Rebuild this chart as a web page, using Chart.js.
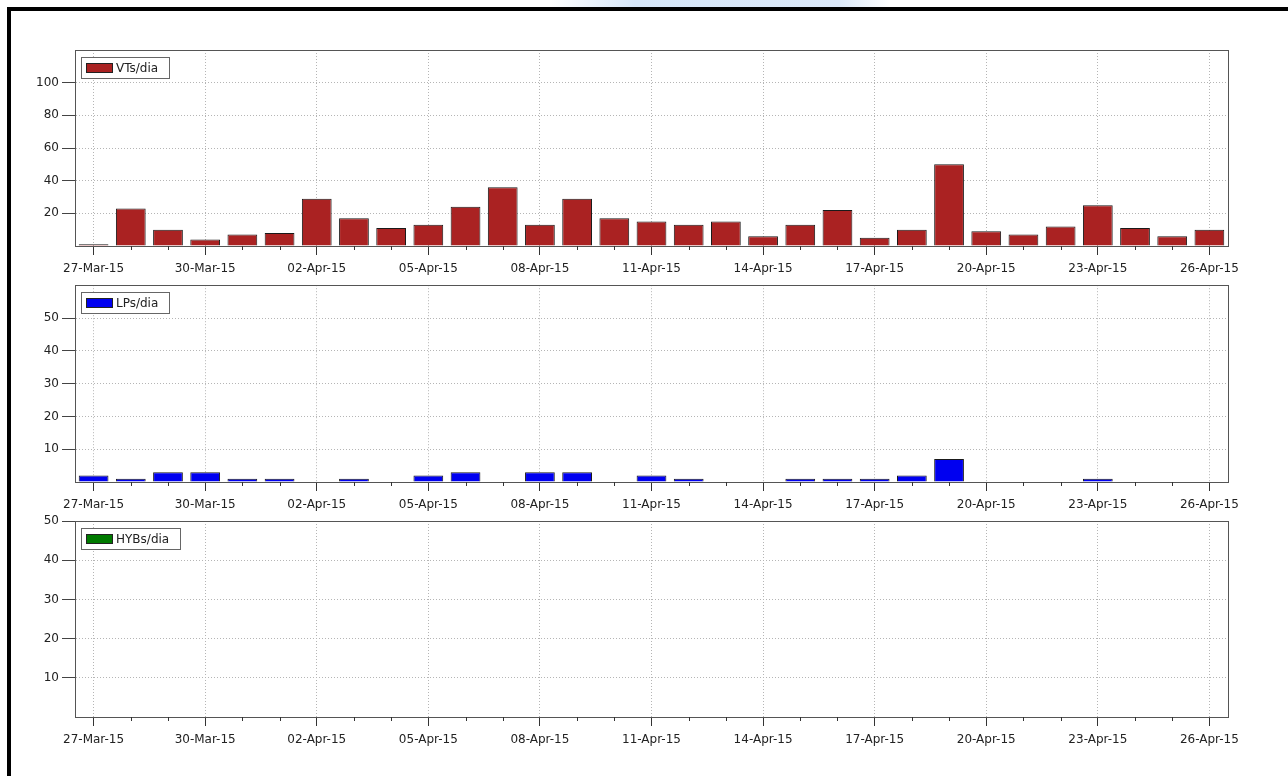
<!DOCTYPE html>
<html>
<head>
<meta charset="utf-8">
<script src="https://cdn.jsdelivr.net/npm/chart.js@4.4.0/dist/chart.umd.min.js"></script>
<style>
html, body { margin: 0; padding: 0; background: #fff; }
body { width: 1288px; height: 776px; position: relative; overflow: hidden; }
#glow { position: absolute; left: 550px; top: 0; width: 340px; height: 8px;
  background: linear-gradient(to right, rgba(214,230,248,0), #d6e6f8 25%, #dce9f9 85%, rgba(220,233,249,0)); }
#frame { position: absolute; left: 7px; top: 7px; right: -10px; bottom: -10px;
  border-top: 4px solid #000; border-left: 4px solid #000; }
canvas { position: absolute; left: 0; }
</style>
</head>
<body>
<div id="glow"></div>
<div id="frame"></div>
<canvas id="vts" width="1288" height="280" style="top:0px"></canvas>
<canvas id="lps" width="1288" height="242" style="top:275px"></canvas>
<canvas id="hybs" width="1288" height="271" style="top:505px"></canvas>
<script>
const dates = [
  '27-Mar-15', '28-Mar-15', '29-Mar-15', '30-Mar-15', '31-Mar-15',
  '01-Apr-15', '02-Apr-15', '03-Apr-15', '04-Apr-15', '05-Apr-15',
  '06-Apr-15', '07-Apr-15', '08-Apr-15', '09-Apr-15', '10-Apr-15',
  '11-Apr-15', '12-Apr-15', '13-Apr-15', '14-Apr-15', '15-Apr-15',
  '16-Apr-15', '17-Apr-15', '18-Apr-15', '19-Apr-15', '20-Apr-15',
  '21-Apr-15', '22-Apr-15', '23-Apr-15', '24-Apr-15', '25-Apr-15',
  '26-Apr-15'
];

const vtsPerDay = [1, 23, 10, 4, 7, 8, 29, 17, 11, 13, 24, 36, 13, 29, 17, 15,
  13, 15, 6, 13, 22, 5, 10, 50, 9, 7, 12, 25, 11, 6, 10];
const lpsPerDay = [2, 1, 3, 3, 1, 1, 0, 1, 0, 2, 3, 0, 3, 3, 0, 2,
  1, 0, 0, 1, 1, 1, 2, 7, 0, 0, 0, 1, 0, 0, 0];
const hybsPerDay = [0, 0, 0, 0, 0, 0, 0, 0, 0, 0, 0, 0, 0, 0, 0, 0,
  0, 0, 0, 0, 0, 0, 0, 0, 0, 0, 0, 0, 0, 0, 0];

const FONT = { family: "'DejaVu Sans', sans-serif", size: 12 };
const GRID = '#b5b5b5';

// plot frame, small daily ticks and the boxed legend
const panelDecor = {
  id: 'panelDecor',
  afterDraw(chart) {
    const { ctx, chartArea: a } = chart;
    const xs = chart.scales.x;
    ctx.save();
    ctx.strokeStyle = '#555';
    ctx.lineWidth = 1;
    ctx.strokeRect(Math.round(a.left) + 0.5, Math.round(a.top) + 0.5,
      Math.round(a.right - a.left), Math.round(a.bottom - a.top));

    ctx.strokeStyle = '#333';
    ctx.beginPath();
    for (let i = 0; i < dates.length; i++) {
      if (i % 3 === 0) continue;
      const x = Math.round(xs.getPixelForTick(i)) + 0.5;
      ctx.moveTo(x, a.bottom);
      ctx.lineTo(x, a.bottom + 4);
    }
    ctx.stroke();

    const ds = chart.data.datasets[0];
    ctx.font = "12px 'DejaVu Sans', sans-serif";
    const tw = ctx.measureText(ds.label).width;
    const x = Math.round(a.left) + 6, y = Math.round(a.top) + 7;
    const w = Math.round(5 + 26 + 8 + tw + 7), h = 21;
    ctx.fillStyle = '#fff';
    ctx.fillRect(x, y, w, h);
    ctx.strokeStyle = '#666';
    ctx.strokeRect(x + 0.5, y + 0.5, w, h);
    ctx.fillStyle = ds.backgroundColor;
    ctx.fillRect(x + 5, y + 6, 26, 9);
    ctx.strokeStyle = '#222';
    ctx.strokeRect(x + 5.5, y + 6.5, 26, 9);
    ctx.fillStyle = '#222';
    ctx.textBaseline = 'middle';
    ctx.fillText(ds.label, x + 35, y + h / 2 + 1);
    ctx.restore();
  }
};

function makePanel(id, label, values, color, yMax, yStep, showTop, padTop, axisHeight) {
  const hidden = v => v === 0 || (v === yMax && !showTop);
  return new Chart(document.getElementById(id), {
    type: 'bar',
    data: {
      labels: dates,
      datasets: [{
        label: label,
        data: values,
        backgroundColor: color,
        borderColor: '#1a1a1a',
        borderWidth: 1,
        borderSkipped: 'bottom',
        categoryPercentage: 0.8,
        barPercentage: 1.0
      }]
    },
    options: {
      responsive: false,
      animation: false,
      devicePixelRatio: 1,
      layout: { padding: { top: padTop, right: 60, left: 0, bottom: 0 } },
      plugins: { legend: { display: false }, tooltip: { enabled: false } },
      scales: {
        x: {
          offset: true,
          afterFit: s => { s.height = axisHeight; },
          grid: {
            offset: false,
            color: c => c.index % 3 === 0 ? GRID : 'transparent',
            lineWidth: 1,
            tickLength: 9,
            tickColor: c => c.index % 3 === 0 ? '#333' : 'transparent',
            tickBorderDash: []
          },
          border: { display: true, color: '#555', width: 1, dash: [1, 2] },
          ticks: {
            autoSkip: false,
            maxRotation: 0,
            minRotation: 0,
            padding: 7,
            color: '#222',
            font: FONT,
            callback: (v, i) => i % 3 === 0 ? dates[i] : ''
          }
        },
        y: {
          min: 0,
          max: yMax,
          afterFit: s => { s.width = 75; },
          grid: {
            color: c => hidden(c.tick.value) ? 'transparent' : GRID,
            tickLength: 13,
            tickColor: c => hidden(c.tick.value) ? 'transparent' : '#444',
            tickBorderDash: []
          },
          border: { display: true, color: '#555', width: 1, dash: [1, 2] },
          ticks: {
            stepSize: yStep,
            padding: 3,
            color: '#222',
            font: FONT,
            callback: v => hidden(v) ? '' : v
          }
        }
      }
    },
    plugins: [panelDecor]
  });
}

makePanel('vts', 'VTs/dia', vtsPerDay, '#aa2222', 120, 20, false, 50, 34);
makePanel('lps', 'LPs/dia', lpsPerDay, '#0000f0', 60, 10, false, 10, 35);
makePanel('hybs', 'HYBs/dia', hybsPerDay, '#007a00', 50, 10, true, 16, 59);
</script>
</body>
</html>
